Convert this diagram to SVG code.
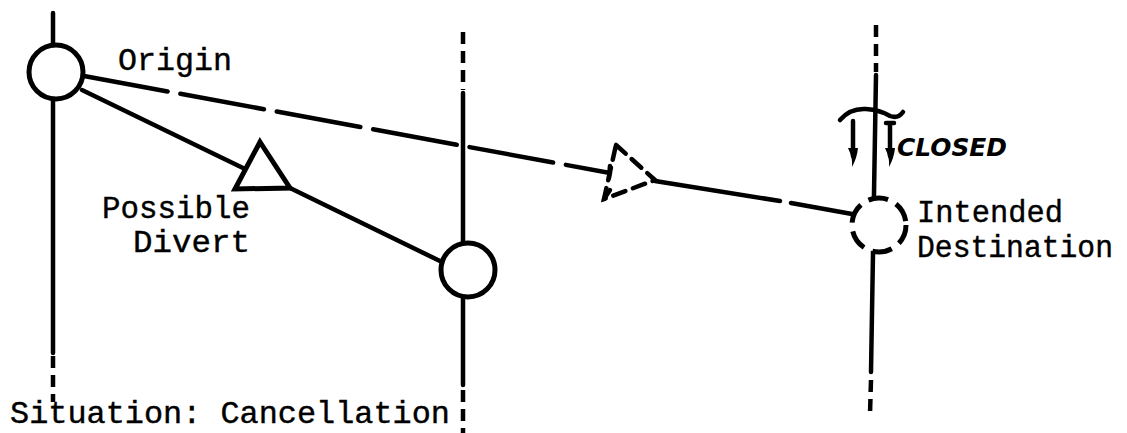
<svg xmlns="http://www.w3.org/2000/svg" width="1127" height="433" viewBox="0 0 1127 433">
<style>
.ln{stroke:#000;stroke-width:4.5;fill:none;stroke-linecap:round}
.dot{stroke:#000;stroke-width:4.5;fill:none;stroke-dasharray:12 7}
.node{stroke:#000;stroke-width:5;fill:#fff}
.dnode{stroke:#000;stroke-width:5;fill:#fff;stroke-dasharray:20 9}
.lbl{font-family:"Liberation Mono","Courier New",monospace;font-size:31px;fill:#000;stroke:#000;stroke-width:0.4}
.hand{font-family:"DejaVu Sans",sans-serif;font-weight:bold;font-style:italic;font-size:25px;fill:#000}
</style>
<rect width="1127" height="433" fill="#fff"/>
<g id="tracks">
<line class="ln" x1="53" y1="13" x2="53" y2="353"/>
<line class="dot" x1="53" y1="356" x2="53" y2="402"/>
<line class="dot" x1="463" y1="32" x2="463" y2="90"/>
<line class="ln" x1="463" y1="93" x2="463" y2="385"/>
<line class="dot" x1="463" y1="390" x2="463" y2="433"/>
<line class="dot" x1="876" y1="25" x2="876" y2="72"/>
<line class="ln" x1="876" y1="75" x2="871" y2="372"/>
<line class="dot" x1="871" y1="380" x2="870" y2="414"/>
</g>
<g id="connectors">
<line class="ln" x1="82" y1="90" x2="243" y2="168"/>
<line class="ln" x1="290" y1="188" x2="442" y2="262"/>
<path class="ln" d="M84 76 L610 173" stroke-dasharray="85 13"/>
<line class="ln" x1="610" y1="166" x2="609" y2="178"/>
<path class="ln" d="M655 181 L780 201 M791 203 L852 214"/>
</g>
<g id="origin">
<circle class="node" cx="56" cy="72" r="27"/>
<text class="lbl" x="118" y="70" textLength="114" lengthAdjust="spacingAndGlyphs">Origin</text>
</g>
<g id="possible-divert">
<polygon class="node" points="260,142 290,188 235,189" stroke-linejoin="miter"/>
<text class="lbl" x="102" y="218" textLength="148" lengthAdjust="spacingAndGlyphs">Possible</text>
<text class="lbl" x="133" y="252" textLength="117" lengthAdjust="spacingAndGlyphs">Divert</text>
</g>
<g id="cancel-stop">
<circle class="node" cx="468" cy="270" r="27"/>
</g>
<g id="planned-stop">
<polygon class="ln" points="616,145 655,180 604,199" stroke-dasharray="13 8" fill="#fff"/>
<line class="ln" x1="604" y1="199" x2="610" y2="190"/>
</g>
<g id="destination">
<circle class="dnode" cx="879" cy="225" r="27"/>
<text class="lbl" x="917" y="222" textLength="146" lengthAdjust="spacingAndGlyphs">Intended</text>
<text class="lbl" x="917" y="257" textLength="196" lengthAdjust="spacingAndGlyphs">Destination</text>
</g>
<g id="closed">
<path class="ln" d="M840 120 Q850 108 866 109 Q880 110 890 116 Q898 119 903 112"/>
<path class="ln" d="M853 121 L853 156" stroke-width="5"/>
<path d="M848 148 Q853 158 852 167 Q857 158 858 148 Z" fill="#000"/>
<path class="ln" d="M886 123 L894 123 M890 123 L890 156" stroke-width="5"/>
<path d="M885 148 Q890 158 889 167 Q894 158 895 148 Z" fill="#000"/>
<text class="hand" x="897" y="156" textLength="110" lengthAdjust="spacingAndGlyphs">CLOSED</text>
</g>
<g id="situation">
<text class="lbl" x="10" y="423" textLength="440" lengthAdjust="spacingAndGlyphs">Situation: Cancellation</text>
</g>
</svg>
